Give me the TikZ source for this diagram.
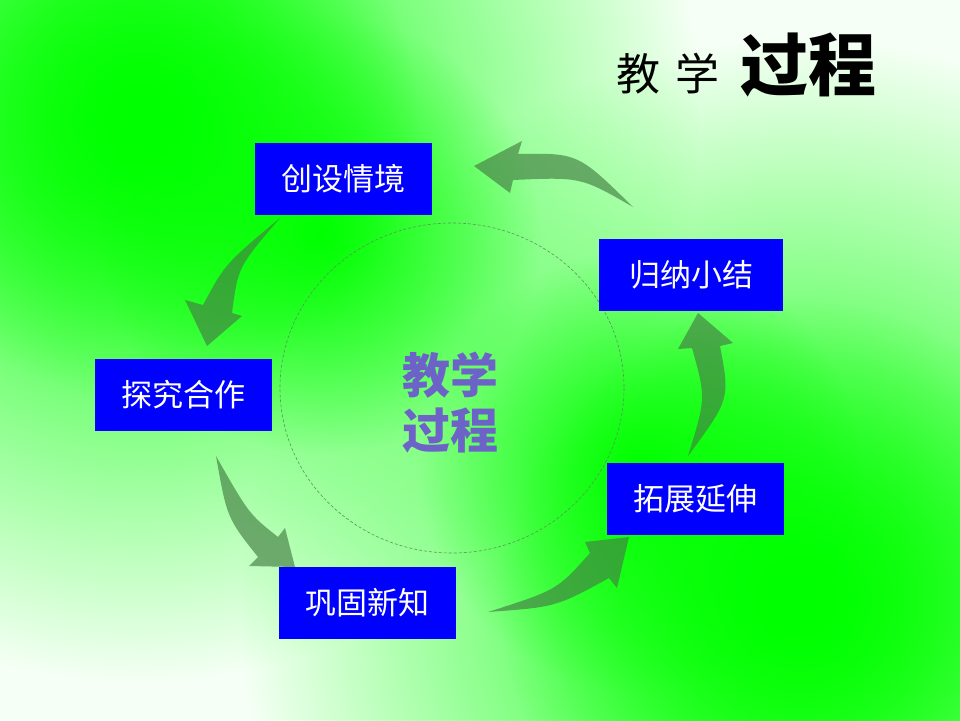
\documentclass[tikz,border=0pt]{standalone}
\usepackage{fontspec}
\usepackage{tikz}
\usetikzlibrary{
positioning,
fadings
}
\newfontfamily\cjk{Noto Sans CJK SC}
\definecolor{stageblue}{RGB}{0,0,255}
\definecolor{leafgreen}{RGB}{0,255,0}
\definecolor{paper}{RGB}{245,255,245}
\definecolor{flowgreen}{RGB}{68,126,68}
\definecolor{ringgreen}{RGB}{90,150,90}
\definecolor{hubpurple}{RGB}{108,98,200}
\tikzfading[name=glow, inner color=transparent!0, outer color=transparent!100]

\begin{document}
\begin{tikzpicture}[
  x=1pt, y=-1pt,
  stage/.style={fill=stageblue, text=white, minimum width=177pt, minimum height=72pt, inner sep=0pt, font=\cjk\fontsize{31}{36}\selectfont},
  flow/.style={fill=flowgreen, fill opacity=0.66},
  ring/.style={draw=ringgreen, line width=0.6pt, dash pattern=on 3pt off 2pt},
  hubtext/.style={align=center, inner sep=0pt, font=\cjk\bfseries\fontsize{48}{55}\selectfont},
  bloom/.style={fill=leafgreen, path fading=glow}
]

% Background
\useasboundingbox (0,0) rectangle (960,720);
\begin{scope}
\clip (0,0) rectangle (960,720);
\fill[paper] (0,0) rectangle (960,720);
\fill[bloom] (140,120) circle (560);
\fill[bloom] (140,120) circle (280);
\fill[bloom] (320,235) circle (220);
\fill[bloom] (800,600) circle (560);
\fill[bloom] (800,600) circle (300);
\fill[bloom] (640,470) circle (220);
\end{scope}

% Title
\node[inner sep=0pt, font=\cjk\fontsize{44}{50}\selectfont] (title) at (668,74) {教\hspace{16pt}学};
\node[base right=20pt of title, inner sep=0pt, font=\cjk\bfseries\fontsize{68}{76}\selectfont] (titlebig) {过程};

% Hub
\draw[ring] (452,388) ellipse [x radius=172, y radius=165];
\node[hubtext, text=hubpurple] (hub) at (450,403) {教学\\过程};

% Stages
\node[stage] (create) at (343.5,179) {创设情境};
\node[stage, minimum width=184pt] (sum) at (691,275) {归纳小结};
\node[stage] (explore) at (183,395) {探究合作};
\node[stage] (extend) at (695,499) {拓展延伸};
\node[stage] (consol) at (367,603) {巩固新知};

% Flow arrows
\fill[flow] (633,207) .. controls (578,153) .. (518,154) -- (522,141) -- (474,166) -- (510,193) -- (513,180) .. controls (581,177) .. (633,207);
\fill[flow] (280,218) .. controls (238,267) .. (232,313) -- (242,316) -- (207,346) -- (185,300) -- (203,305) .. controls (225,264) .. (280,218);
\fill[flow] (216,456) .. controls (249,514) .. (278,537) -- (285,528) -- (295,567) -- (249,566) -- (258,557) .. controls (227,518) .. (216,456);
\fill[flow] (488,612) .. controls (557,590) .. (590,553) -- (585,542) -- (629,537) -- (617,588) -- (609,578) .. controls (556,607) .. (488,612);
\fill[flow] (688,456) .. controls (730,399) .. (720,346) -- (733,343) -- (698,313) -- (678,349) -- (692,348) .. controls (706,398) .. (688,456);

\end{tikzpicture}
\end{document}
